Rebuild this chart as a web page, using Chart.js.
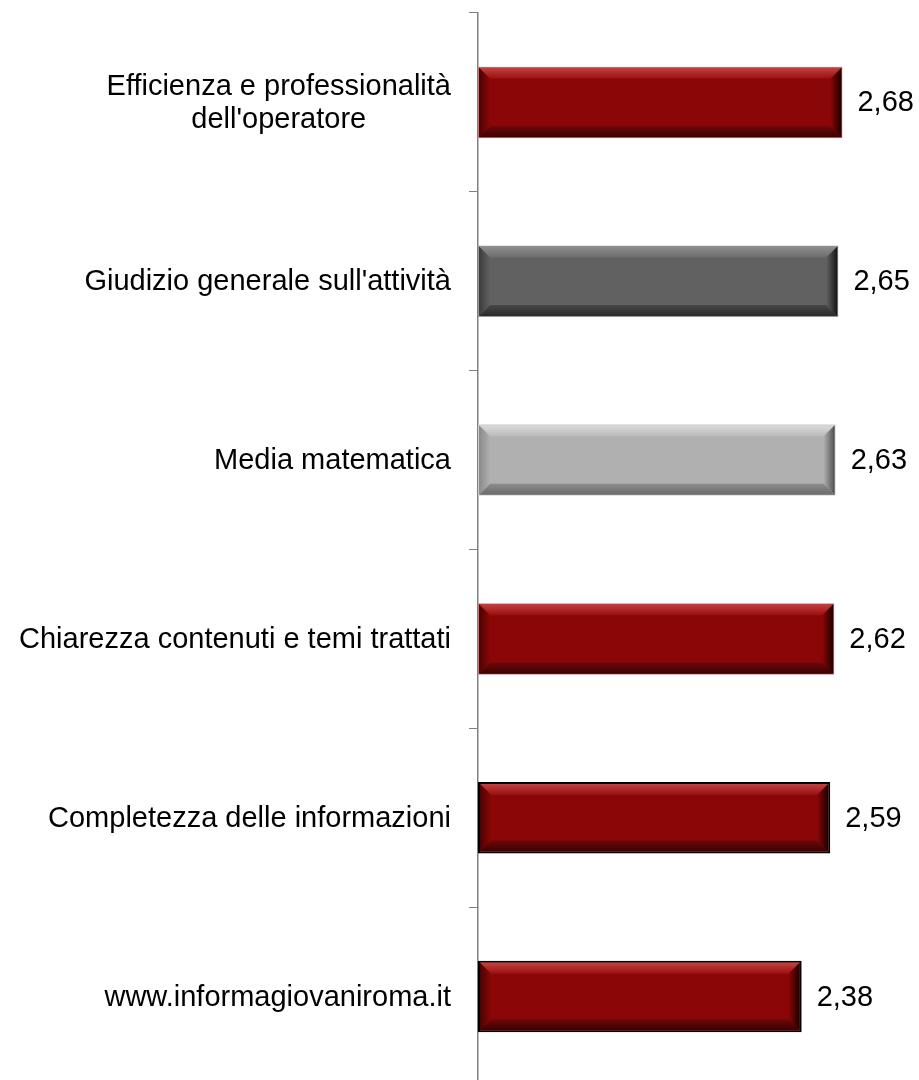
<!DOCTYPE html>
<html>
<head>
<meta charset="utf-8">
<script src="https://cdn.jsdelivr.net/npm/chart.js@4/dist/chart.umd.min.js"></script>
<style>
  html, body { margin: 0; padding: 0; background: #fff; overflow: hidden; }
  canvas { display: block; }
</style>
</head>
<body>
<canvas id="barChart" width="919" height="1100"></canvas>
<script>
const categories = [
    ['Efficienza e professionalità', "dell'operatore"],
    "Giudizio generale sull'attività",
    'Media matematica',
    'Chiarezza contenuti e temi trattati',
    'Completezza delle informazioni',
    'www.informagiovaniroma.it'
];
const values = [2.68, 2.65, 2.63, 2.62, 2.59, 2.38];
const axisMin = 0;
const axisMax = 3;

// bar colour themes: base, top bevel, bottom bevel, left bevel, right bevel
const themes = {
    red:   { base: '#8b0606', top: ['#c4403f', '#98100f'], bottom: ['#6d0707', '#3a0202'], left: '#4a0202', right: '#1a0000', border: '#c77a7a' },
    dark:  { base: '#616161', top: ['#8e8e8e', '#6c6c6c'], bottom: ['#474747', '#2c2c2c'], left: '#3c3c3c', right: '#141414', border: '#9a9a9a' },
    light: { base: '#b0b0b0', top: ['#dadada', '#bababa'], bottom: ['#8c8c8c', '#6a6a6a'], left: '#8a8a8a', right: '#505050', border: '#cfcfcf' }
};
const barThemes = ['red', 'dark', 'light', 'red', 'red', 'red'];
const barBorders = [1, 1, 1, 1, 2, 2];
const barBorderColors = [themes.red.border, themes.dark.border, themes.light.border, themes.red.border, '#000000', '#000000'];

const FONT = '"Liberation Sans", Arial, sans-serif';
const LABEL_SIZE = 29;
const LINE_H = 33;

function fmt(v) {
    return v.toFixed(2).replace('.', ',');
}

const bevelPlugin = {
    id: 'bevel',
    afterDatasetsDraw(chart) {
        const ctx = chart.ctx;
        const meta = chart.getDatasetMeta(0);
        meta.data.forEach((bar, i) => {
            const t = themes[barThemes[i]];
            const bw = barBorders[i];
            const l = bar.base + bw, r = bar.x - bw;
            const top = bar.y - bar.height / 2 + bw, bot = bar.y + bar.height / 2 - bw;
            const b = 11;
            ctx.save();
            // top bevel
            let g = ctx.createLinearGradient(0, top, 0, top + b);
            g.addColorStop(0, t.top[0]); g.addColorStop(1, t.top[1]);
            ctx.fillStyle = g;
            ctx.beginPath();
            ctx.moveTo(l, top); ctx.lineTo(r, top); ctx.lineTo(r - b, top + b); ctx.lineTo(l + b, top + b);
            ctx.closePath(); ctx.fill();
            // bottom bevel
            g = ctx.createLinearGradient(0, bot - b, 0, bot);
            g.addColorStop(0, t.bottom[0]); g.addColorStop(1, t.bottom[1]);
            ctx.fillStyle = g;
            ctx.beginPath();
            ctx.moveTo(l, bot); ctx.lineTo(r, bot); ctx.lineTo(r - b, bot - b); ctx.lineTo(l + b, bot - b);
            ctx.closePath(); ctx.fill();
            // left bevel
            g = ctx.createLinearGradient(l, 0, l + b, 0);
            g.addColorStop(0, t.left); g.addColorStop(1, t.base);
            ctx.fillStyle = g;
            ctx.beginPath();
            ctx.moveTo(l, top); ctx.lineTo(l + b, top + b); ctx.lineTo(l + b, bot - b); ctx.lineTo(l, bot);
            ctx.closePath(); ctx.fill();
            // right bevel
            g = ctx.createLinearGradient(r - b, 0, r, 0);
            g.addColorStop(0, t.base); g.addColorStop(1, t.right);
            ctx.fillStyle = g;
            ctx.beginPath();
            ctx.moveTo(r, top); ctx.lineTo(r - b, top + b); ctx.lineTo(r - b, bot - b); ctx.lineTo(r, bot);
            ctx.closePath(); ctx.fill();
            ctx.restore();
        });
    }
};

// category labels: block right-aligned to the axis, lines centred inside the block
const categoryLabels = {
    id: 'categoryLabels',
    afterDraw(chart) {
        const ctx = chart.ctx;
        const scale = chart.scales.y;
        const rightEdge = scale.right - 9 - 18;
        ctx.save();
        ctx.font = LABEL_SIZE + 'px ' + FONT;
        ctx.fillStyle = '#000';
        ctx.textAlign = 'center';
        ctx.textBaseline = 'middle';
        chart.data.labels.forEach((lab, i) => {
            const lines = Array.isArray(lab) ? lab : [lab];
            const w = Math.max(...lines.map(s => ctx.measureText(s).width));
            const cx = rightEdge - w / 2;
            const y = scale.getPixelForTick(i);
            const y0 = y - (lines.length - 1) * LINE_H / 2;
            lines.forEach((s, k) => ctx.fillText(s, cx, y0 + k * LINE_H + 1));
        });
        ctx.restore();
    }
};

const valueLabels = {
    id: 'valueLabels',
    afterDraw(chart) {
        const ctx = chart.ctx;
        const meta = chart.getDatasetMeta(0);
        ctx.save();
        ctx.font = LABEL_SIZE + 'px ' + FONT;
        ctx.fillStyle = '#000';
        ctx.textAlign = 'left';
        ctx.textBaseline = 'middle';
        meta.data.forEach((bar, i) => {
            ctx.fillText(fmt(values[i]), bar.x + 15, bar.y + 1);
        });
        ctx.restore();
    }
};

new Chart(document.getElementById('barChart'), {
    type: 'bar',
    data: {
        labels: categories,
        datasets: [{
            data: values,
            backgroundColor: barThemes.map(k => themes[k].base),
            borderColor: barBorderColors,
            borderWidth: barBorders,
            borderSkipped: false,
            barPercentage: 0.4,
            categoryPercentage: 1
        }]
    },
    options: {
        indexAxis: 'y',
        responsive: false,
        animation: false,
        layout: { padding: { top: 13, bottom: 14, left: 0, right: 33 } },
        plugins: {
            legend: { display: false },
            tooltip: { enabled: false }
        },
        scales: {
            x: { display: false, min: axisMin, max: axisMax },
            y: {
                afterFit(scale) {
                    scale.width = 478;
                    scale.paddingTop = 0;
                    scale.paddingBottom = 0;
                },
                grid: {
                    offset: true,
                    drawOnChartArea: false,
                    drawTicks: true,
                    tickLength: 9,
                    color: '#808080',
                    lineWidth: 1
                },
                border: { display: true, color: '#808080', width: 1.5 },
                ticks: {
                    color: 'rgba(0,0,0,0)',
                    padding: 18,
                    font: { family: FONT, size: LABEL_SIZE, lineHeight: 1.15 }
                }
            }
        }
    },
    plugins: [bevelPlugin, categoryLabels, valueLabels]
});
</script>
</body>
</html>
